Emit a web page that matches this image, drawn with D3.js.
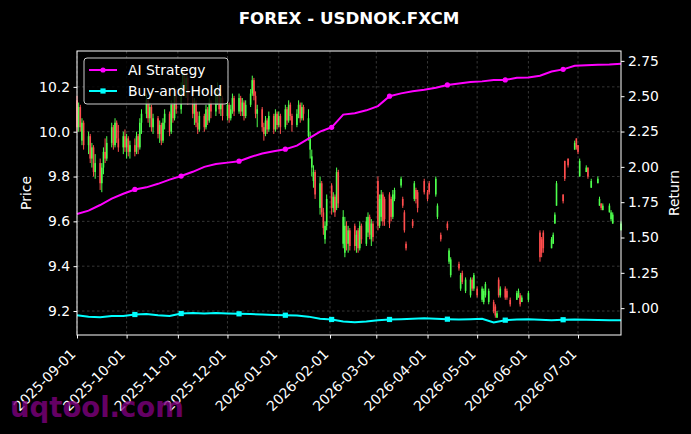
<!DOCTYPE html>
<html><head><meta charset="utf-8">
<script src="https://cdn.jsdelivr.net/npm/d3@7"></script>
<style>
body{margin:0;background:#000;}
svg{display:block;}
text{font-family:"DejaVu Sans",sans-serif;}
</style>
</head><body>
<svg id="c" width="691" height="434"></svg>
<script>
// ---------------- DATA ----------------
const title = "FOREX - USDNOK.FXCM";
const startDate = "2025-09-01";
const endDate = "2026-07-27";
// one entry per business day from startDate to endDate (null = no bar)
const opens = [
10.14,10.02,10.11,9.96,10.04, 9.94,9.98,9.88,9.93,9.82, 9.86,9.77,9.84,9.91,9.88, 9.95,10.02,9.94,10.04,9.97,
9.93,9.98,9.93,9.97,9.91, 9.94,9.91,9.98,9.93,10.04, 10.08,10.14,10.06,10.11,10.02, 10.06,9.99,10.03,9.96,10.04,
10.08,10.00,10.12,10.06,10.18, 10.10,10.20,10.27,10.19,10.24, 10.14,10.08,10.13,10.04,10.01, 10.07,10.02,10.10,10.05,10.13,
10.09,10.16,10.19,10.10,10.15, 10.07,10.12,10.06,10.10,10.15, 10.09,10.15,10.09,10.13,10.07, 10.12,10.17,10.23,10.16,10.08,
10.10,10.02,9.99,10.05,10.01, 10.07,10.01,10.08,10.03,10.07, 10.02,10.10,10.05,10.12,10.07, 10.03,10.08,10.12,10.06,10.11,
9.98,9.92,9.84,9.78,9.82, 9.66,9.77,9.64,9.52,9.58, 9.76,9.66,9.71,9.66,9.82, 9.50,9.46,9.58,9.50,9.56,
9.58,9.49,9.56,9.48,9.58, 9.50,9.55,9.62,9.52,9.59, 9.78,9.58,9.62,9.72,9.70, 9.72,9.70,9.62,9.70,null,
9.76,9.70,9.64,9.50,null, 9.60,9.70,9.74,9.73,null, 9.78,null,9.73,9.77,null, 9.72,9.62,null,9.54,null,
9.59,9.42,9.36,null,null, 9.41,9.30,9.37,null,9.29, 9.27,9.34,9.30,null,9.30, 9.25,9.24,9.27,null,9.24,
9.24,9.22,9.17,9.34,9.27, 9.30,9.29,null,9.25,null, 9.25,9.26,9.27,9.24,null, 9.25,null,null,null,null,
9.55,9.52,9.55,null,null, 9.48,9.50,9.59,9.67,null, 9.72,9.87,null,9.88,null, 9.92,9.97,9.94,9.80,null,
9.82,9.84,null,9.75,null, 9.77,9.67,9.68,9.65,null, 9.64,9.61,9.59,null,null, 9.56];
const highs = [
10.16,10.13,10.12,10.06,10.05, 10.00,9.99,9.95,9.94,9.90, 9.88,9.86,9.93,9.97,9.98, 10.04,10.03,10.06,10.05,10.03,
10.00,10.01,9.99,9.98,9.96, 9.97,10.00,9.99,10.06,10.10, 10.17,10.15,10.13,10.12,10.08, 10.07,10.05,10.04,10.06,10.10,
10.09,10.14,10.13,10.20,10.19, 10.22,10.29,10.28,10.26,10.25, 10.17,10.15,10.14,10.09,10.09, 10.08,10.12,10.11,10.15,10.14,
10.18,10.22,10.20,10.17,10.16, 10.14,10.13,10.12,10.17,10.16, 10.17,10.16,10.15,10.14,10.14, 10.19,10.25,10.24,10.18,10.12,
10.11,10.04,10.07,10.06,10.09, 10.08,10.10,10.09,10.09,10.08, 10.12,10.11,10.14,10.13,10.08, 10.10,10.14,10.13,10.13,10.12,
10.10,10.00,9.92,9.85,9.83, 9.80,9.78,9.66,9.60,9.72, 9.77,9.73,9.72,9.84,9.83, 9.65,9.62,9.60,9.58,9.57,
9.59,9.56,9.57,9.60,9.59, 9.62,9.64,9.63,9.61,9.60, 9.80,9.72,9.74,9.73,9.71, 9.73,9.71,9.74,9.75,null,
9.80,9.71,9.65,9.51,null, 9.61,9.78,9.75,9.74,null, 9.79,null,9.74,9.78,null, 9.80,9.68,null,9.55,null,
9.60,9.48,9.44,null,null, 9.42,9.37,9.38,null,9.35, 9.35,9.35,9.37,null,9.31, 9.31,9.30,9.33,null,9.30,
9.25,9.23,9.20,9.35,9.31, 9.31,9.30,null,9.26,null, 9.29,9.30,9.28,9.27,null, 9.29,null,null,null,null,
9.56,9.53,9.56,null,null, 9.53,9.55,9.64,9.78,null, 9.72,9.87,null,9.88,null, 9.96,9.97,9.94,9.88,null,
9.85,9.84,null,9.79,null, 9.80,9.71,9.68,9.68,null, 9.68,9.65,9.64,null,null, 9.60];
const lows = [
10.00,10.00,10.00,9.94,9.92, 9.90,9.86,9.84,9.80,9.79, 9.74,9.73,9.81,9.86,9.87, 9.93,9.92,9.93,9.95,9.91,
9.90,9.91,9.88,9.89,9.88, 9.89,9.90,9.90,9.92,9.99, 10.06,10.04,10.02,10.00,9.99, 9.97,9.95,9.94,9.95,10.01,
9.98,9.99,10.04,10.05,10.08, 10.08,10.18,10.17,10.15,10.12, 10.06,10.03,10.02,9.99,10.00, 10.00,10.01,10.03,10.04,10.06,
10.07,10.12,10.08,10.07,10.05, 10.05,10.04,10.05,10.08,10.07, 10.08,10.07,10.07,10.05,10.06, 10.11,10.16,10.14,10.06,10.02,
10.00,9.96,9.98,9.99,10.00, 9.99,10.00,10.01,10.02,9.99, 10.01,10.03,10.04,10.05,10.00, 10.02,10.06,10.04,10.05,10.05,
9.96,9.88,9.80,9.75,9.70, 9.63,9.62,9.54,9.50,9.56, 9.63,9.64,9.62,9.65,9.66, 9.48,9.44,9.47,9.46,9.47,
9.47,9.46,9.46,9.47,9.50, 9.49,9.53,9.52,9.49,9.51, 9.56,9.57,9.60,9.58,9.58, 9.57,9.60,9.61,9.69,null,
9.75,9.66,9.55,9.47,null, 9.57,9.69,9.68,9.64,null, 9.72,null,9.69,9.72,null, 9.71,9.61,null,9.51,null,
9.56,9.41,9.35,null,null, 9.38,9.29,9.32,null,9.28, 9.26,9.29,9.29,null,9.26, 9.24,9.23,9.26,null,9.23,
9.19,9.17,9.17,9.26,9.26, 9.25,9.25,null,9.22,null, 9.25,9.26,9.22,9.24,null, 9.24,null,null,null,null,
9.42,9.44,9.46,null,null, 9.48,9.50,9.59,9.67,null, 9.68,9.78,null,9.84,null, 9.92,9.92,9.90,9.80,null,
9.82,9.79,null,9.75,null, 9.77,9.67,9.65,9.65,null, 9.64,9.60,9.59,null,null, 9.56];
const closes = [
10.02,10.11,10.02,10.04,9.94, 9.98,9.88,9.93,9.82,9.86, 9.77,9.84,9.91,9.88,9.95, 10.02,9.94,10.04,9.97,9.93,
9.98,9.93,9.97,9.91,9.94, 9.91,9.98,9.93,10.04,10.08, 10.14,10.06,10.11,10.02,10.06, 9.99,10.03,9.96,10.04,10.08,
10.00,10.12,10.06,10.18,10.10, 10.20,10.27,10.19,10.24,10.14, 10.08,10.13,10.04,10.01,10.07, 10.02,10.10,10.05,10.13,10.09,
10.16,10.19,10.10,10.15,10.07, 10.12,10.06,10.10,10.15,10.09, 10.15,10.09,10.13,10.07,10.12, 10.17,10.23,10.16,10.08,10.10,
10.02,9.99,10.05,10.01,10.07, 10.01,10.08,10.03,10.07,10.02, 10.10,10.05,10.12,10.07,10.03, 10.08,10.12,10.06,10.11,10.08,
10.06,9.97,9.89,9.82,9.72, 9.77,9.64,9.57,9.58,9.70, 9.66,9.71,9.64,9.82,9.68, 9.62,9.58,9.50,9.56,9.49,
9.49,9.54,9.48,9.58,9.52, 9.60,9.62,9.54,9.59,9.53, 9.58,9.70,9.72,9.60,9.61, 9.59,9.62,9.72,9.74,null,
9.79,9.67,9.56,9.48,null, 9.58,9.77,9.70,9.66,null, 9.73,null,9.70,9.73,null, 9.79,9.67,null,9.52,null,
9.57,9.47,9.43,null,null, 9.39,9.36,9.33,null,9.34, 9.34,9.30,9.36,null,9.27, 9.30,9.29,9.32,null,9.29,
9.20,9.18,9.19,9.27,9.30, 9.26,9.26,null,9.23,null, 9.28,9.29,9.23,9.26,null, 9.28,null,null,null,null,
9.44,9.46,9.48,null,null, 9.52,9.54,9.63,9.77,null, 9.69,9.79,null,9.85,null, 9.95,9.93,9.91,9.87,null,
9.84,9.80,null,9.78,null, 9.79,9.70,9.66,9.67,null, 9.67,9.64,9.63,null,null, 9.59];
// weekly (Monday) cumulative returns
const aiReturns = [1.666,1.69,1.73,1.775,1.81,1.84,1.855,1.88,1.91,1.935,1.965,2.00,
2.02,2.03,2.04,2.07,2.095,2.11,2.125,2.15,2.20,2.25,2.28,2.37,
2.38,2.40,2.43,2.50,2.52,2.535,2.545,2.56,2.58,2.59,2.60,2.605,
2.615,2.615,2.63,2.633,2.645,2.675,2.69,2.715,2.72,2.722,2.725,2.73];
const bhReturns = [0.95,0.94,0.935,0.945,0.945,0.955,0.958,0.95,0.945,0.962,0.965,0.963,
0.965,0.962,0.96,0.958,0.955,0.952,0.95,0.948,0.94,0.925,0.92,0.905,
0.90,0.905,0.915,0.92,0.922,0.925,0.928,0.925,0.922,0.92,0.922,0.925,
0.898,0.915,0.92,0.922,0.918,0.915,0.918,0.92,0.918,0.916,0.915,0.915];
const markerIdx = [5,9,14,18,22,27,32,37,42];
const priceTicks = [9.2,9.4,9.6,9.8,10.0,10.2];
const returnTicks = [1.00,1.25,1.50,1.75,2.00,2.25,2.50,2.75];
const seriesNames = ["AI Strategy","Buy-and-Hold"];

// ---------------- CHART ----------------
const svg = d3.select("#c");
const m = {l:77, r:621, t:51, b:335};
const parse = d3.timeParse("%Y-%m-%d");
const d0 = parse(startDate), d1 = parse(endDate);
const days = d3.timeDay.range(d0, d3.timeDay.offset(d1,1)).filter(d => d.getDay()!==0 && d.getDay()!==6);
const weeks = d3.timeMonday.range(d0, d3.timeDay.offset(d1,1));

const x = d3.scaleTime().domain([d0,d1]).range([m.l,m.r]);
const yP = d3.scaleLinear().domain([9.093,10.36]).range([m.b,m.t]);
const yR = d3.scaleLinear().domain([0.81,2.82]).range([m.b,m.t]);
const monthTicks = d3.timeMonth.range(d0, d3.timeDay.offset(d1,1));

svg.append("rect").attr("width",691).attr("height",434).attr("fill","#000");

// grid
const grid = svg.append("g").attr("stroke","#5a5a5a").attr("stroke-width",0.6).attr("stroke-dasharray","2.5,2.5");
monthTicks.forEach(d => grid.append("line").attr("x1",x(d)).attr("x2",x(d)).attr("y1",m.t).attr("y2",m.b));
priceTicks.forEach(v => grid.append("line").attr("x1",m.l).attr("x2",m.r).attr("y1",yP(v)).attr("y2",yP(v)));

// candles
const cg = svg.append("g");
days.forEach((d,i) => {
  if (closes[i]==null) return;
  const o=opens[i], c=closes[i], h=highs[i], l=lows[i];
  const col = c>=o ? "#4dff4d" : "#ff4d4d";
  const cx = x(d);
  cg.append("line").attr("x1",cx).attr("x2",cx).attr("y1",yP(h)).attr("y2",yP(l)).attr("stroke",col).attr("stroke-width",1);
  const top = yP(Math.max(o,c)), bot = yP(Math.min(o,c));
  cg.append("rect").attr("x",cx-0.8).attr("width",1.6).attr("y",top).attr("height",Math.max(0.8,bot-top)).attr("fill",col);
});

// lines
const line = d3.line().x((v,i)=>x(weeks[i])).y(v=>yR(v));
svg.append("path").attr("d",line(aiReturns)).attr("fill","none").attr("stroke","#ff00ff").attr("stroke-width",2);
svg.append("path").attr("d",line(bhReturns)).attr("fill","none").attr("stroke","#00ffff").attr("stroke-width",2);
markerIdx.forEach(i => {
  svg.append("circle").attr("cx",x(weeks[i])).attr("cy",yR(aiReturns[i])).attr("r",2.6).attr("fill","#ff00ff");
  svg.append("rect").attr("x",x(weeks[i])-2.6).attr("y",yR(bhReturns[i])-2.6).attr("width",5.2).attr("height",5.2).attr("fill","#00ffff");
});

// frame
svg.append("rect").attr("x",m.l).attr("y",m.t).attr("width",m.r-m.l).attr("height",m.b-m.t)
  .attr("fill","none").attr("stroke","#fff").attr("stroke-width",1);

const fs = 13.9;
// x axis
const xa = svg.append("g").attr("transform",`translate(0,${m.b})`)
  .call(d3.axisBottom(x).tickValues(monthTicks).tickFormat(d3.timeFormat("%Y-%m-%d")).tickSize(3.5).tickPadding(0));
xa.select(".domain").remove();
xa.selectAll(".tick line").attr("stroke","#fff");
xa.selectAll(".tick text").attr("fill","#fff").attr("font-size",fs).attr("font-family","DejaVu Sans")
  .attr("text-anchor","end").attr("dy",null).attr("y",null)
  .attr("transform","translate(-1,20) rotate(-45)");

// left axis
const yl = svg.append("g").attr("transform",`translate(${m.l},0)`)
  .call(d3.axisLeft(yP).tickValues(priceTicks).tickFormat(d3.format(".1f")).tickSize(3.5).tickPadding(3.5));
yl.select(".domain").remove();
yl.selectAll(".tick line").attr("stroke","#fff");
yl.selectAll(".tick text").attr("fill","#fff").attr("font-size",fs).attr("font-family","DejaVu Sans");

// right axis
const yr = svg.append("g").attr("transform",`translate(${m.r},0)`)
  .call(d3.axisRight(yR).tickValues(returnTicks).tickFormat(d3.format(".2f")).tickSize(3.5).tickPadding(3.5));
yr.select(".domain").remove();
yr.selectAll(".tick line").attr("stroke","#fff");
yr.selectAll(".tick text").attr("fill","#fff").attr("font-size",fs).attr("font-family","DejaVu Sans");

// axis labels
svg.append("text").attr("transform",`translate(31,${(m.t+m.b)/2}) rotate(-90)`).attr("text-anchor","middle")
  .attr("fill","#fff").attr("font-size",fs).text("Price");
svg.append("text").attr("transform",`translate(679,${(m.t+m.b)/2}) rotate(-90)`).attr("text-anchor","middle")
  .attr("fill","#fff").attr("font-size",fs).text("Return");

// title
svg.append("text").attr("x",(m.l+m.r)/2).attr("y",24).attr("text-anchor","middle").attr("fill","#fff")
  .attr("font-size",16.7).attr("font-weight","bold").text(title);

// legend
const lg = svg.append("g");
lg.append("rect").attr("x",84).attr("y",58).attr("width",144).attr("height",46).attr("rx",3)
  .attr("fill","#000").attr("fill-opacity",0.8).attr("stroke","#cccccc").attr("stroke-width",1);
const lcol = ["#ff00ff","#00ffff"];
seriesNames.forEach((n,i) => {
  const yy = 70 + i*21;
  lg.append("line").attr("x1",89).attr("x2",117).attr("y1",yy).attr("y2",yy).attr("stroke",lcol[i]).attr("stroke-width",2);
  if (i===0) lg.append("circle").attr("cx",103).attr("cy",yy).attr("r",2.6).attr("fill",lcol[i]);
  else lg.append("rect").attr("x",100.4).attr("y",yy-2.6).attr("width",5.2).attr("height",5.2).attr("fill",lcol[i]);
  lg.append("text").attr("x",128).attr("y",yy+5).attr("fill","#fff").attr("font-size",fs).text(n);
});

// watermark
svg.append("text").attr("x",10).attr("y",417).attr("fill","#800080").attr("fill-opacity",0.8)
  .attr("font-size",27.5).attr("font-weight","bold").text("uqtool.com");
</script>
</body></html>
